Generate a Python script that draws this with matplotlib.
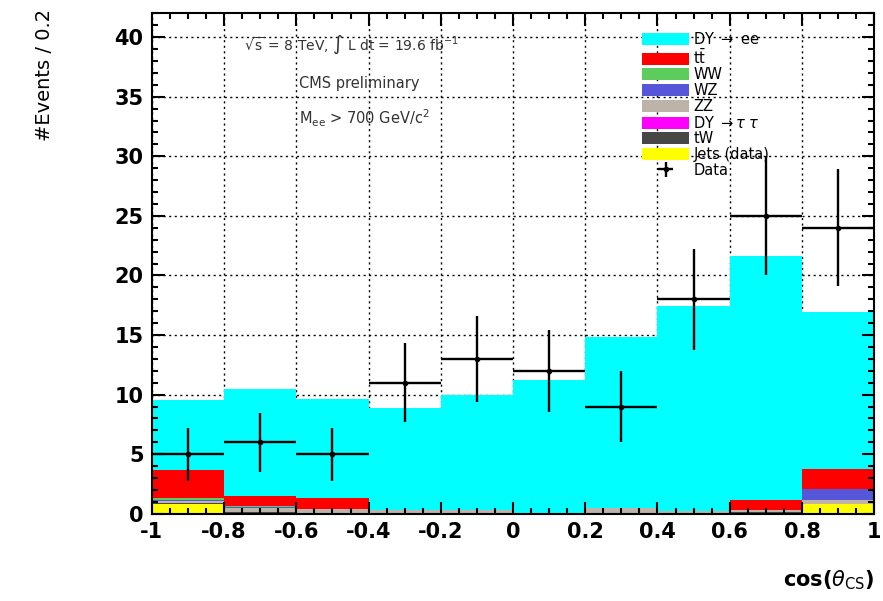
import numpy as np
import matplotlib
matplotlib.use('Agg')
import matplotlib.pyplot as plt
from matplotlib.patches import Patch
from matplotlib.ticker import MultipleLocator

# bins in cos(theta_CS)
edges = np.linspace(-1, 1, 11)
centers = (edges[:-1] + edges[1:]) / 2

# stacked backgrounds (bottom to top)
jets = [0.85, 0.10, 0.0, 0.0, 0.0, 0.0, 0.0, 0.0, 0.10, 0.85]
tw = [0.05, 0.05, 0.0, 0.0, 0.0, 0.0, 0.0, 0.0, 0.05, 0.0]
dy_tautau = [0.0, 0.0, 0.0, 0.0, 0.0, 0.0, 0.0, 0.0, 0.0, 0.0]
zz = [0.20, 0.30, 0.40, 0.33, 0.33, 0.03, 0.50, 0.20, 0.15, 0.30]
wz = [0.05, 0.15, 0.0, 0.0, 0.0, 0.0, 0.0, 0.0, 0.0, 0.90]
ww = [0.15, 0.05, 0.0, 0.0, 0.0, 0.0, 0.0, 0.0, 0.0, 0.0]
ttbar = [2.40, 0.85, 0.95, 0.0, 0.0, 0.0, 0.0, 0.0, 0.90, 1.75]
dy_ee = [5.85, 8.95, 8.25, 8.57, 9.67, 11.22, 14.35, 17.25, 20.45, 13.10]

data = [5, 6, 5, 11, 13, 12, 9, 18, 25, 24]

stack = [
    (jets, '#ffff00', 'Jets (data)'),
    (tw, '#474747', 'tW'),
    (dy_tautau, '#ff00ff', r'DY $\rightarrow\tau\;\tau$'),
    (zz, '#bdb3a8', 'ZZ'),
    (wz, '#5656d8', 'WZ'),
    (ww, '#5ccc5c', 'WW'),
    (ttbar, '#ff0000', r't$\bar{\rm t}$'),
    (dy_ee, '#00ffff', r'DY $\rightarrow$ ee'),
]

fig = plt.figure(figsize=(8.83, 6.01), dpi=100)
ax = fig.add_axes([0.172, 0.145, 0.818, 0.833])

bottom = np.zeros(10)
for vals, col, lab in stack:
    ax.bar(edges[:-1], vals, width=0.2, bottom=bottom, align='edge',
           color=col, linewidth=0, zorder=1)
    bottom += np.array(vals)

err = np.sqrt(data)
eb = ax.errorbar(centers, data, xerr=0.1, yerr=err, fmt='o', color='black',
                 ms=3, elinewidth=1.7, capsize=0, zorder=3)

ax.set_xlim(-1, 1)
ax.set_ylim(0, 42)
ax.xaxis.set_major_locator(MultipleLocator(0.2))
ax.xaxis.set_minor_locator(MultipleLocator(0.05))
ax.yaxis.set_major_locator(MultipleLocator(5))
ax.yaxis.set_minor_locator(MultipleLocator(1))
ax.tick_params(which='both', direction='in', top=True, right=True, width=1.5)
ax.tick_params(which='major', length=9, labelsize=15, pad=6)
ax.tick_params(which='minor', length=4.5)
for s in ax.spines.values():
    s.set_linewidth(1.5)

xt = np.arange(-1, 1.01, 0.2)
ax.set_xticks(xt)
ax.set_xticklabels(['-1', '-0.8', '-0.6', '-0.4', '-0.2', '0', '0.2', '0.4',
                    '0.6', '0.8', '1'])
for lbl in ax.get_xticklabels() + ax.get_yticklabels():
    lbl.set_fontweight('bold')

# dotted grid behind the histograms
for x in xt:
    ax.axvline(x, color='black', ls=(0, (1.5, 2.5)), lw=1, zorder=0)
for y in np.arange(0, 41, 5):
    ax.axhline(y, color='black', ls=(0, (1.5, 2.5)), lw=1, zorder=0)

fig.text(0.05, 0.985, '#Events / 0.2', rotation=90, ha='center', va='top',
         fontsize=14)
fig.text(0.99, 0.015, r'cos($\theta_{\rm CS}$)', ha='right', va='bottom',
         fontsize=15, fontweight='bold')

ax.text(0.128, 0.936, r'$\sqrt{\rm s}$ = 8 TeV, $\int$ L dt = 19.6 fb$^{-1}$',
        transform=ax.transAxes, fontsize=10, color='#333333', va='center')
ax.text(0.204, 0.860, 'CMS preliminary', transform=ax.transAxes,
        fontsize=10.5, color='#333333', va='center')
ax.text(0.204, 0.790, r'M$_{\rm ee}$ > 700 GeV/c$^2$', transform=ax.transAxes,
        fontsize=10.5, color='#333333', va='center')

handles = [Patch(facecolor=c, edgecolor='none', label=l) for _, c, l in stack[::-1]]
handles.append(eb)
labels = [l for _, _, l in stack[::-1]] + ['Data']
ax.legend(handles, labels, loc='upper left', bbox_to_anchor=(0.665, 0.985),
          frameon=False, fontsize=10.5, labelspacing=0.05, handlelength=3.2,
          handleheight=0.9, handletextpad=0.3, borderpad=0.2)

fig.savefig('out.png', dpi=100)
